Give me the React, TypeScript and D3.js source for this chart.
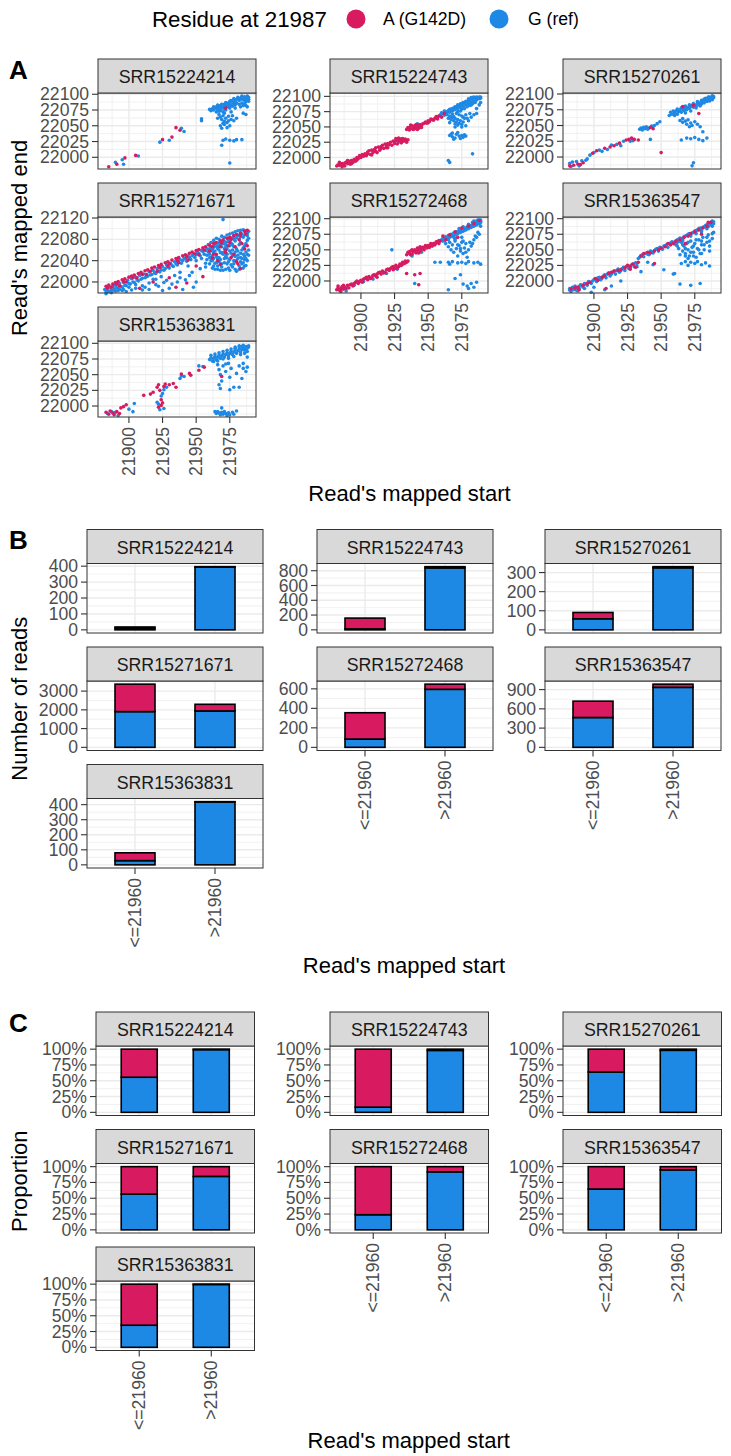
import React from 'react';
import * as d3 from 'd3';

const RED = '#D81B60';
const BLUE = '#1E88E5';
const FONT = '"Liberation Sans", Arial, Helvetica, sans-serif';

const samples = ['SRR15224214', 'SRR15224743', 'SRR15270261', 'SRR15271671', 'SRR15272468', 'SRR15363547', 'SRR15363831'];
const legendLabels = ['A (G142D)', 'G (ref)'];
const legendTitle = 'Residue at 21987';

// ---------- Panel A: read start / end points ----------
type P = [number, number];
const s1Alt: P[] = [[21885,21985],[21891,21989],[21897,21999],[21905,22003],[21925,22028],[21932,22032],[21935,22047],[21938,22043],[21972,22078]];
const s1Ref: P[] = [[21890,21992],[21895,21996],[21896,21989],[21907,22002],[21923,22024],[21930,22027],[21939,22046],[21941,22041],[21954,22061],[21954,22058],
[21976,22090],[21978,22093],[21980,22092],[21981,22095],[21983,22094],[21984,22097],[21985,22093],[21986,22096],[21987,22094],[21988,22097],[21989,22095],[21982,22090],[21979,22088],[21986,22090],[21988,22091],[21989,22092],
[21960,22076],[21962,22077],[21963,22075],[21964,22078],[21965,22080],[21966,22076],[21967,22079],[21968,22082],[21969,22078],[21970,22080],[21971,22084],[21972,22081],[21973,22083],[21974,22086],[21975,22084],[21976,22082],[21977,22087],[21978,22085],[21979,22083],[21980,22086],[21968,22074],[21970,22072],[21972,22075],[21975,22078],[21965,22072],[21982,22084],[21984,22086],[21986,22085],[21987,22082],[21988,22080],[21961,22074],[21967,22073],[21971,22077],[21974,22080],[21977,22081],
[21967,22068],[21968,22064],[21969,22060],[21970,22066],[21971,22057],[21972,22062],[21973,22055],[21974,22065],[21975,22050],[21976,22060],[21968,22050],[21969,22046],[21978,22058],[21980,22062],[21985,22070],[21987,22068],[21970,22054],[21973,22047],
[21970,22027],[21972,22029],[21975,22027],[21978,22026],[21980,22028],[21984,22028],[21969,22019],[21975,21991]];
const s1RefB: P[] = [[21963,22080],[21966,22083],[21969,22084],[21972,22087],[21975,22089],[21978,22091],[21981,22093],[21984,22092],[21987,22088],[21989,22089],[21971,22070],[21976,22072],[21979,22078],[21983,22080],[21985,22082],[21966,22062],[21971,22052],[21974,22058],[21977,22066]];

const s2Alt: P[] = [[21882,21986],[21883,21988],[21884,21987],[21885,21989],[21886,21990],[21887,21988],[21888,21991],[21889,21992],[21890,21990],[21891,21994],[21893,21995],[21895,21997],[21897,22000],
[21899,22003],[21901,22005],[21903,22006],[21905,22009],[21906,22011],[21908,22012],[21910,22013],[21911,22016],[21913,22017],[21915,22018],[21916,22020],[21918,22022],[21920,22023],[21922,22025],[21924,22027],[21925,22026],[21926,22028],[21927,22029],[21928,22027],[21929,22030],[21930,22028],[21931,22031],[21932,22029],[21933,22027],
[21908,22004],[21912,22008],[21927,22022],[21930,22024],[21934,22025],[21920,22016],
[21934,22046],[21935,22049],[21936,22048],[21937,22051],[21938,22047],[21939,22050],[21940,22052],[21941,22049],[21942,22053],[21943,22051],[21944,22054],[21945,22052],[21936,22045],[21940,22047],
[21946,22055],[21948,22058],[21950,22060],[21951,22059],[21953,22062],[21955,22064],[21957,22066],[21958,22068],[21952,22063],[21949,22056],[21960,22066],[21962,22072]];
const s2AltB: P[] = [[21884,21992],[21886,21985],[21888,21986],[21890,21995],[21892,21989],[21894,21992],[21896,21994],[21898,21998],[21900,22000],[21902,22002],[21904,22003],[21907,22005],[21909,22008],[21911,22010],[21914,22012],[21917,22015],[21919,22019],[21921,22021],[21923,22020],[21925,22023],[21926,22031],[21928,22032],[21931,22026],[21933,22030],[21935,22029],[21937,22053],[21939,22046],[21941,22054],[21943,22048],[21945,22049],[21947,22056],[21950,22057],[21954,22061],[21956,22067],[21957,22063],[21944,22050],[21938,22052],[21942,22046],[21893,21990],[21897,21996],[21905,22006],[21915,22015],[21919,22016]];
const s2Ref: P[] = [[21892,21991],[21930,22030],[21942,22055],[21928,22025],
[21959,22070],[21961,22072],[21962,22069],[21963,22075],[21964,22073],[21965,22077],[21966,22074],[21967,22079],[21968,22076],[21969,22081],[21970,22078],[21971,22083],[21972,22080],[21973,22085],[21974,22082],[21975,22087],[21976,22084],[21977,22089],[21978,22086],[21979,22091],[21980,22088],[21981,22093],[21982,22090],[21983,22095],[21984,22092],[21985,22097],[21986,22094],[21987,22098],[21988,22096],[21989,22099],[21989,22097],[21988,22099],[21985,22090],[21982,22086],[21979,22083],[21975,22079],[21972,22075],[21968,22071],[21966,22068],[21983,22098],[21986,22099],[21980,22094],
[21965,22064],[21967,22062],[21968,22066],[21969,22060],[21970,22064],[21971,22058],[21972,22062],[21973,22056],[21974,22060],[21975,22054],[21976,22058],[21977,22064],[21978,22052],[21970,22055],[21966,22057],[21980,22060],[21982,22066],[21984,22070],[21986,22072],[21978,22070],[21975,22068],[21973,22070],
[21966,22036],[21968,22034],[21970,22032],[21971,22038],[21973,22035],[21974,22031],[21976,22033],[21977,22037],[21969,22030],[21983,22006],[21965,21995],[21966,21992]];
const s2RefB: P[] = [[21960,22073],[21962,22076],[21964,22070],[21966,22079],[21968,22080],[21970,22083],[21972,22086],[21974,22088],[21976,22090],[21978,22092],[21980,22096],[21982,22098],[21984,22099],[21981,22085],[21983,22088],[21977,22080],[21974,22076],[21971,22072],[21969,22067],[21967,22066],[21976,22066],[21979,22064],[21981,22072],[21986,22080],[21988,22086],[21989,22090],[21972,22053],[21975,22050],[21970,22050],[21968,22040],[21972,22041],[21967,22038],[21975,22036],[21978,22035]];

const s3Alt: P[] = [[21882,21986],[21885,21987],[21888,21989],[21890,21988],[21892,21991],
[21899,22006],[21902,22010],[21908,22014],[21912,22016],[21915,22018],[21919,22022],[21924,22027],[21926,22028],[21930,22028],[21933,22027],[21928,22030],
[21942,22047],[21944,22045],[21950,22007],[21974,22082],[21978,22069],[21966,22080]];
const s3Ref: P[] = [[21882,21990],[21884,21992],[21887,21993],[21889,21986],[21891,21994],[21894,21995],[21895,21997],[21883,21985],
[21897,22003],[21900,22007],[21904,22011],[21906,22009],[21910,22012],[21913,22019],[21917,22020],[21920,22018],[21922,22025],[21927,22025],[21929,22026],
[21934,22044],[21935,22046],[21936,22043],[21937,22047],[21938,22045],[21939,22048],[21940,22044],[21941,22046],[21943,22049],[21945,22050],[21947,22053],[21949,22056],[21942,22028],
[21956,22066],[21958,22068],[21960,22070],[21961,22073],[21962,22068],[21963,22072],[21964,22075],[21965,22071],[21966,22076],[21967,22074],[21968,22078],[21969,22075],[21970,22079],[21971,22077],[21972,22080],[21973,22082],[21974,22079],[21975,22083],[21976,22081],[21977,22085],[21978,22083],[21979,22086],[21980,22084],[21981,22088],[21982,22086],[21983,22090],[21984,22088],[21985,22091],[21986,22089],[21987,22093],[21988,22091],[21989,22094],[21989,22096],[21988,22097],[21985,22095],[21982,22092],
[21964,22058],[21966,22055],[21968,22057],[21969,22052],[21970,22059],[21972,22054],[21973,22050],[21975,22056],[21977,22052],[21979,22048],[21981,22040],[21971,22048],
[21965,22027],[21969,22030],[21972,22029],[21975,22031],[21978,22028],[21981,22026],[21984,22030],[21973,21986],[21974,21991]];
const s3RefB: P[] = [[21957,22071],[21959,22073],[21962,22076],[21965,22078],[21968,22081],[21971,22083],[21974,22085],[21977,22088],[21980,22090],[21983,22093],[21986,22095],[21988,22094],[21979,22081],[21976,22078],[21972,22073],[21968,22070],[21960,22066],[21966,22061]];

const s4Ref: P[] = [[21882,21986],[21883,21981],[21884,21989],[21885,21983],[21886,21990],[21887,21985],[21888,21992],[21889,21987],[21890,21994],[21891,21989],[21892,21984],[21893,21997],[21894,21992],[21896,21999],[21897,21994],[21899,22003],[21900,21997],[21902,22006],[21903,22000],[21905,22009],[21906,22004],[21908,22012],[21910,22007],[21911,22015],[21913,22010],[21915,22019],[21916,22013],[21918,22022],[21920,22016],[21921,22025],[21923,22019],[21925,22029],[21926,22022],[21928,22032],[21930,22026],[21931,22035],[21933,22029],[21934,22038],[21936,22032],[21938,22042],[21939,22035],[21941,22045],[21943,22039],[21944,22049],[21946,22042],[21948,22052],[21949,22046],[21951,22056],[21953,22049],[21954,22059],[21956,22052],[21958,22062],[21959,22056],[21961,22066],[21962,22060],[21964,22069],[21966,22063],[21967,22073],[21969,22066],[21971,22076],[21972,22070],[21974,22080],[21976,22073],[21977,22083],[21979,22077],[21981,22087],[21982,22080],[21984,22090],[21985,22084],[21987,22093],[21988,22087],[21989,22095],
[21900,21990],[21905,21995],[21910,21985],[21915,21998],[21922,21992],[21928,22003],[21932,21996],[21938,22008],[21945,22012],[21950,22000],[21948,21990],[21940,21986],[21925,21984],[21896,21986],[21918,22005],
[21958,22050],[21960,22046],[21962,22040],[21963,22055],[21964,22035],[21965,22048],[21966,22030],[21967,22060],[21968,22042],[21969,22028],[21970,22052],[21971,22036],[21972,22065],[21973,22045],[21974,22026],[21975,22058],[21976,22032],[21977,22070],[21978,22040],[21979,22024],[21980,22062],[21981,22050],[21982,22030],[21983,22074],[21984,22044],[21985,22036],[21986,22068],[21987,22056],[21988,22078],[21989,22082],[21970,22075],[21974,22080],[21978,22085],[21982,22088],[21966,22068],[21961,22058],[21984,22060],[21986,22048],[21988,22040],[21975,22022],[21980,22020],[21972,22024],[21964,22024],[21977,22049],[21971,22044],[21983,22054],[21987,22031],[21970,22117]];
const s4RefB: P[] = [[21883,21978],[21886,21982],[21889,21984],[21892,21988],[21895,21990],[21898,21993],[21901,21996],[21904,21999],[21907,22002],[21909,22005],[21912,22008],[21914,22011],[21917,22014],[21919,22017],[21922,22020],[21924,22023],[21927,22025],[21929,22028],[21932,22031],[21935,22034],[21937,22037],[21940,22040],[21942,22043],[21945,22046],[21947,22049],[21950,22051],[21952,22054],[21955,22057],[21957,22059],[21960,22062],[21963,22065],[21965,22067],[21968,22070],[21970,22072],[21973,22075],[21975,22078],[21978,22080],[21980,22083],[21983,22085],[21986,22088],[21988,22091],
[21902,21985],[21912,21990],[21920,21995],[21930,21988],[21936,22000],[21942,22004],[21947,22018],[21953,22025],[21957,22035],[21898,21982],[21915,21986],[21926,21999],[21934,22012],
[21960,22052],[21962,22048],[21964,22058],[21966,22044],[21967,22038],[21969,22055],[21971,22062],[21972,22048],[21973,22034],[21975,22042],[21976,22054],[21978,22066],[21979,22048],[21980,22040],[21981,22058],[21982,22070],[21983,22046],[21984,22034],[21985,22064],[21986,22042],[21987,22072],[21988,22052],[21989,22060],[21963,22030],[21966,22024],[21970,22022],[21977,22028],[21985,22026],[21962,22062],[21968,22055]];
const s4RefC: P[] = [[21959,22070],[21961,22074],[21963,22078],[21965,22082],[21967,22080],[21969,22086],[21971,22084],[21973,22088],[21975,22090],[21977,22092],[21979,22094],[21981,22096],[21983,22097],[21985,22098],[21987,22096],[21961,22040],[21963,22044],[21965,22036],[21967,22046],[21969,22034],[21971,22056],[21973,22062],[21975,22068],[21977,22060],[21979,22056],[21981,22044],[21983,22038],[21985,22052],[21987,22044],[21989,22050],[21974,22038],[21978,22034],[21982,22024],[21986,22030],[21962,22026],[21968,22022],[21958,22042],[21960,22034],[21957,22028],[21973,22052],
[21884,21982],[21887,21980],[21890,21983],[21893,21986],[21895,21984],[21920,22005],[21924,22010],[21938,22018],[21944,22030],[21950,22040],[21954,22044],[21905,21988],[21910,21993]];
const s4Alt: P[] = [[21883,21992],[21885,21994],[21888,21996],[21890,21999],[21892,22001],[21895,22004],[21897,22006],[21900,22009],[21902,22011],[21904,22013],[21907,22016],[21909,22018],[21912,22021],[21914,22023],[21917,22026],[21919,22028],[21922,22031],[21924,22033],[21927,22036],[21929,22038],[21932,22041],[21935,22044],[21937,22046],[21940,22049],[21942,22051],[21945,22054],[21947,22056],[21950,22059],[21952,22061],[21955,22064],[21957,22066],[21960,22069],[21963,22072],[21965,22074],[21968,22077],[21970,22079],[21973,22082],[21975,22084],[21978,22087],[21980,22089],[21983,22092],[21986,22095],[21988,22097],
[21898,22000],[21906,22008],[21913,22014],[21921,22020],[21929,22030],[21937,22036],[21944,22041],[21952,22051],[21960,22058],[21968,22066],[21975,22074],[21982,22079],[21887,21990],[21893,21993],
[21908,21988],[21918,22000],[21935,21990],[21943,21998],[21955,22010],[21968,22033],[21976,22046],[21983,22025],[21986,22062],[21962,22045],[21979,22066]];
const s4AltB: P[] = [[21884,21988],[21891,21996],[21896,22001],[21903,22008],[21910,22014],[21916,22020],[21923,22027],[21930,22034],[21936,22040],[21943,22047],[21949,22053],[21956,22060],[21962,22066],[21969,22073],[21976,22080],[21983,22087],[21987,22090],[21972,22055],[21980,22038],[21965,22052],[21930,22008],[21950,22030],
[21966,22040],[21972,22060],[21978,22052],[21984,22072],[21988,22068],[21963,22052],[21981,22034],[21974,22068]];

const s5Alt: P[] = [[21882,21986],[21883,21989],[21884,21985],[21885,21988],[21886,21991],[21887,21987],[21888,21990],[21890,21993],[21891,21989],[21893,21995],[21894,21992],[21896,21998],[21898,21996],[21900,22001],[21901,21998],[21903,22004],[21905,22002],[21906,22007],[21908,22005],[21910,22010],[21911,22008],[21913,22013],[21915,22011],[21916,22016],[21918,22014],[21920,22019],[21921,22017],[21923,22022],[21925,22020],[21926,22025],[21928,22023],[21929,22027],[21930,22025],[21931,22030],[21932,22028],[21933,22032],[21934,22030],[21924,22018],[21912,22006],
[21934,22042],[21935,22046],[21936,22044],[21937,22048],[21938,22043],[21939,22047],[21940,22050],[21941,22045],[21942,22049],[21943,22052],[21944,22048],[21945,22051],[21946,22054],[21947,22050],[21948,22055],[21949,22053],[21950,22057],[21951,22054],[21952,22058],[21953,22056],[21954,22060],[21955,22058],[21956,22061],[21957,22063],[21958,22060],[21959,22064],
[21961,22072],[21966,22074],[21970,22079],[21975,22085],[21980,22088],[21984,22092],[21988,22097],[21963,22066],[21972,22070],
[21934,22012],[21940,22010],[21944,22012],[21943,21994]];
const s5AltB: P[] = [[21883,21992],[21885,21984],[21887,21993],[21889,21988],[21892,21994],[21895,21996],[21897,22000],[21899,21999],[21902,22003],[21904,22006],[21907,22004],[21909,22009],[21912,22011],[21914,22014],[21917,22013],[21919,22018],[21922,22020],[21924,22023],[21927,22021],[21929,22025],[21931,22027],[21933,22029],[21935,22032],[21936,22047],[21938,22050],[21940,22047],[21942,22053],[21944,22055],[21946,22052],[21948,22057],[21950,22055],[21952,22060],[21954,22058],[21956,22063],[21958,22065],[21937,22042],[21943,22045]];
const s5Ref: P[] = [[21889,21984],[21895,21993],[21902,21999],[21909,22003],[21919,22012],[21927,22019],[21885,21983],[21938,22040],[21945,22046],[21923,22050],[21955,22030],[21959,22030],[21940,21996],
[21960,22066],[21961,22069],[21962,22065],[21963,22071],[21964,22068],[21965,22073],[21966,22070],[21967,22075],[21968,22072],[21969,22077],[21970,22074],[21971,22079],[21972,22076],[21973,22081],[21974,22078],[21975,22083],[21976,22080],[21977,22085],[21978,22082],[21979,22087],[21980,22084],[21981,22089],[21982,22086],[21983,22091],[21984,22088],[21985,22093],[21986,22090],[21987,22095],[21988,22092],[21989,22096],[21989,22094],[21988,22098],[21987,22098],[21984,22096],
[21963,22060],[21965,22055],[21966,22062],[21967,22050],[21968,22058],[21969,22046],[21970,22064],[21971,22052],[21972,22040],[21973,22057],[21974,22048],[21975,22062],[21976,22044],[21977,22053],[21978,22060],[21979,22038],[21980,22050],[21982,22056],[21984,22066],[21986,22070],[21988,22075],[21975,22070],[21970,22068],
[21965,22030],[21966,22027],[21968,22031],[21972,22029],[21975,22030],[21978,22028],[21980,22031],[21984,22029],[21987,22030],[21989,22027],
[21970,22004],[21974,22010],[21976,21995],[21979,21992],[21982,21996],[21984,21990],[21986,21998],[21980,21988],[21965,21986]];
const s5RefB: P[] = [[21961,22064],[21963,22068],[21965,22066],[21967,22072],[21969,22070],[21971,22075],[21973,22078],[21975,22080],[21977,22082],[21979,22084],[21981,22086],[21983,22088],[21985,22090],[21987,22092],[21989,22098],[21986,22096],[21983,22094],[21980,22091],[21976,22087],[21973,22084],[21970,22066],[21972,22058],[21974,22052],[21976,22064],[21978,22046],[21981,22062],[21983,22060],[21985,22072],[21987,22078],[21989,22088]];

const s6Ref: P[] = [[21882,21985],[21882,21988],[21883,21983],[21884,21990],[21885,21986],[21886,21992],[21887,21988],[21888,21984],[21889,21991],[21890,21994],[21892,21990],[21893,21996],[21895,21993],[21896,21999],[21898,21996],[21900,22002],[21902,21999],[21903,22005],[21905,22002],[21907,22008],[21909,22005],[21910,22011],[21912,22008],[21914,22014],[21916,22011],[21917,22017],[21919,22014],[21921,22020],[21923,22017],[21924,22023],[21926,22020],[21928,22026],[21930,22023],[21932,22028],[21934,22038],[21936,22042],[21937,22039],[21939,22045],[21941,22042],[21942,22048],[21944,22045],[21946,22051],[21948,22048],[21949,22054],[21951,22051],[21953,22057],[21955,22054],[21956,22060],[21958,22063],[21960,22060],[21962,22066],[21964,22069],[21966,22066],[21968,22072],[21970,22075],[21972,22072],[21974,22078],[21976,22081],[21978,22084],[21980,22081],[21982,22087],[21984,22090],[21986,22093],[21988,22096],[21989,22095],[21989,22092],[21987,22090],[21985,22087],
[21893,21988],[21908,21986],[21932,22023],[21960,22012],[21959,22011],
[21961,22058],[21963,22052],[21965,22062],[21966,22048],[21967,22056],[21968,22044],[21969,22060],[21970,22050],[21971,22040],[21972,22064],[21973,22054],[21974,22046],[21975,22060],[21976,22038],[21977,22052],[21978,22066],[21979,22044],[21980,22058],[21981,22070],[21982,22050],[21984,22062],[21985,22074],[21986,22056],[21988,22068],[21989,22078],[21964,22042],[21970,22036],
[21965,22028],[21968,22031],[21970,22025],[21972,22030],[21975,22028],[21977,22031],[21980,22026],[21983,22029],[21986,22024],
[21964,21995],[21972,21993],[21979,21996]];
const s6RefB: P[] = [[21883,21988],[21885,21990],[21887,21985],[21889,21988],[21891,21993],[21894,21995],[21897,21998],[21899,22000],[21901,22003],[21904,22006],[21906,22004],[21908,22010],[21911,22013],[21913,22011],[21915,22016],[21918,22019],[21920,22017],[21922,22022],[21925,22024],[21927,22022],[21929,22027],[21931,22029],[21933,22036],[21935,22041],[21938,22044],[21940,22043],[21943,22047],[21945,22049],[21947,22052],[21950,22052],[21952,22056],[21954,22058],[21957,22061],[21959,22062],[21961,22064],[21963,22067],[21965,22068],[21967,22071],[21969,22073],[21971,22076],[21973,22077],[21975,22080],[21977,22082],[21979,22085],[21981,22086],[21983,22089],[21985,22091],[21987,22094],[21976,22076],[21980,22079],[21984,22084],[21988,22088],[21966,22064],[21962,22062],[21940,22030],[21944,22026],[21952,22018],[21920,22000],[21900,21990],[21935,22015],[21898,21982],[21913,21992],
[21962,22056],[21964,22064],[21966,22058],[21968,22052],[21970,22062],[21972,22046],[21974,22056],[21976,22066],[21978,22050],[21980,22064],[21982,22058],[21984,22070],[21986,22064],[21988,22076],[21968,22040],[21974,22040],[21980,22044],[21986,22048]];
const s6Alt: P[] = [[21883,21987],[21886,21989],[21889,21986],[21892,21993],[21897,21998],[21901,22004],[21906,22006],[21911,22012],[21915,22016],[21920,22018],[21925,22025],[21929,22027],[21933,22030],[21935,22040],[21940,22046],[21945,22048],[21950,22053],[21957,22058],[21961,22064],[21967,22070],[21975,22079],[21981,22085],[21987,22094],[21972,22076],[21931,22022],[21909,21988],[21968,22060],[21980,22075]];
const s6AltB: P[] = [[21888,21990],[21895,21996],[21903,22001],[21908,22008],[21913,22014],[21918,22017],[21923,22021],[21927,22024],[21937,22044],[21942,22045],[21948,22050],[21953,22055],[21955,22060],[21959,22060],[21964,22066],[21970,22072],[21978,22082],[21984,22088],[21985,22094],[21927,22019],[21945,22028]];

const s7Alt: P[] = [[21883,21990],[21885,21987],[21886,21992],[21888,21989],[21889,21986],[21891,21991],[21893,21988],[21896,21999],[21898,22002],[21894,21997],
[21911,22017],[21916,22019],[21918,22022],
[21921,22030],[21922,22034],[21923,22025],[21924,22001],[21925,22005],[21922,21998],[21926,22031],[21927,22035],[21924,22010],
[21930,22034],[21933,22036],[21935,22030],[21939,22051],[21945,22052],[21946,22049],[21952,22057],[21956,22062],[21969,22047]];
const s7Ref: P[] = [[21884,21988],[21887,21991],[21890,21990],[21892,21985],[21900,21995],[21904,22004],[21903,21991],
[21921,22006],[21923,21994],[21924,22016],[21925,22020],[21926,22026],[21922,22003],[21926,21996],[21928,22030],
[21938,22044],[21939,22048],[21941,22047],[21952,22064],[21955,22063],
[21960,22074],[21961,22077],[21962,22072],[21963,22076],[21964,22079],[21965,22074],[21966,22078],[21967,22081],[21968,22076],[21969,22080],[21970,22083],[21971,22078],[21972,22082],[21973,22085],[21974,22080],[21975,22084],[21976,22087],[21977,22082],[21978,22086],[21979,22089],[21980,22084],[21981,22088],[21982,22091],[21983,22086],[21984,22090],[21985,22093],[21986,22089],[21987,22095],[21988,22092],[21989,22096],[21989,22094],[21985,22097],[21982,22094],[21979,22092],
[21966,22066],[21967,22058],[21968,22050],[21969,22040],[21970,22064],[21972,22055],[21974,22068],[21975,22046],[21976,22060],[21978,22030],[21980,22052],[21982,22064],[21984,22044],[21985,22068],[21987,22055],[21988,22062],[21967,22034],[21968,22028],[21975,22026],[21982,22030],
[21964,21991],[21965,21988],[21966,21991],[21967,21989],[21968,21986],[21969,21990],[21970,21987],[21971,21991],[21972,21988],[21973,21985],[21974,21989],[21975,21986],[21977,21990],[21978,21987],[21980,21992],[21969,21997]];
const s7RefB: P[] = [[21961,22081],[21964,22083],[21967,22085],[21970,22087],[21973,22089],[21976,22091],[21979,22094],[21982,22096],[21984,22095],[21987,22092],[21963,22071],[21966,22072],[21970,22075],[21974,22076],[21978,22079],[21983,22082],[21986,22084],[21988,22087],[21988,22078],[21985,22060],[21972,22067]];

const scatterAlt: P[][] = [s1Alt, [...s2Alt, ...s2AltB], s3Alt, [...s4Alt, ...s4AltB], [...s5Alt, ...s5AltB], [...s6Alt, ...s6AltB], s7Alt];
const scatterRef: P[][] = [[...s1Ref, ...s1RefB], [...s2Ref, ...s2RefB], [...s3Ref, ...s3RefB], [...s4Ref, ...s4RefB, ...s4RefC], [...s5Ref, ...s5RefB], [...s6Ref, ...s6RefB], [...s7Ref, ...s7RefB]];

const xLimitsA: [number, number] = [21877, 21994.5];
const xTicksA = [21900, 21925, 21950, 21975];
const yLimitsA: [number, number][] = [
  [21981.4, 22102], [21981.2, 22105.5], [21981, 22101.6], [21979.3, 22121.9],
  [21980.7, 22102.7], [21980.7, 22102.7], [21982.5, 22103.7]];
const yTicksA = [
  [22000, 22025, 22050, 22075, 22100], [22000, 22025, 22050, 22075, 22100], [22000, 22025, 22050, 22075, 22100],
  [22000, 22040, 22080, 22120],
  [22000, 22025, 22050, 22075, 22100], [22000, 22025, 22050, 22075, 22100], [22000, 22025, 22050, 22075, 22100]];

// ---------- Panels B & C: read counts ----------
const startBins = ['<=21960', '>21960'];
const refLe = [10, 13, 58, 1905, 85, 465, 28];
const altLe = [8, 146, 33, 1465, 270, 255, 52];
const refGt = [394, 838, 325, 1942, 595, 935, 418];
const altGt = [3, 17, 6, 354, 53, 50, 2];
const countTicks = [
  [0, 100, 200, 300, 400], [0, 200, 400, 600, 800], [0, 100, 200, 300],
  [0, 1000, 2000, 3000], [0, 200, 400, 600], [0, 300, 600, 900], [0, 100, 200, 300, 400]];
const propTicks = [0, 0.25, 0.5, 0.75, 1];

// ---------- layout ----------
type Sec = { top: number; pitch: number; stripH: number; plotH: number; lefts: number[]; width: number };
const secA: Sec = { top: 59, pitch: 124, stripH: 34, plotH: 76, lefts: [98, 330, 563], width: 158 };
const secB: Sec = { top: 529.5, pitch: 117.5, stripH: 34, plotH: 69.5, lefts: [87, 317, 545], width: 176 };
const secC: Sec = { top: 1012, pitch: 117.5, stripH: 34, plotH: 69.5, lefts: [96, 330, 563], width: 158.5 };

const AX = 17.6;
const GRID = '#EBEBEB';
const DARK = '#333333';
const TICKCOL = '#4D4D4D';
const PR = 1.8;

function minorsOf(ticks: number[], dom: [number, number]) {
  const step = ticks[1] - ticks[0];
  const out: number[] = [];
  for (let k = 0; k <= ticks.length; k++) {
    const v = ticks[0] + (k - 0.5) * step;
    if (v >= dom[0] && v <= dom[1]) out.push(v);
  }
  return out;
}

function geom(sec: Sec, i: number) {
  const col = i % 3, row = Math.floor(i / 3);
  const left = sec.lefts[col];
  const stripTop = sec.top + row * sec.pitch;
  const top = stripTop + sec.stripH;
  return { left, stripTop, top, w: sec.width, h: sec.plotH, bottomAxis: i + 3 >= samples.length };
}

function Strip({ x, y, w, h, label }: { x: number; y: number; w: number; h: number; label: string }) {
  return (
    <g>
      <rect x={x} y={y} width={w} height={h} fill="#D9D9D9" stroke={DARK} strokeWidth={1} />
      <text x={x + w / 2} y={y + h / 2 + 1} textAnchor="middle" dominantBaseline="central" fontSize={17.8} fill="#1A1A1A">{label}</text>
    </g>
  );
}

function YAxis({ left, top, ticks, scale, fmt }: { left: number; top: number; ticks: number[]; scale: (v: number) => number; fmt: (v: number) => string }) {
  return (
    <g>
      {ticks.map(t => (
        <g key={t}>
          <line x1={left - 6} x2={left} y1={top + scale(t)} y2={top + scale(t)} stroke={DARK} strokeWidth={1.1} />
          <text x={left - 9} y={top + scale(t)} textAnchor="end" dominantBaseline="central" fontSize={AX} fill={TICKCOL}>{fmt(t)}</text>
        </g>
      ))}
    </g>
  );
}

function XAxisRot({ left, bottom, ticks, pos, labels }: { left: number; bottom: number; ticks: any[]; pos: (v: any) => number; labels: string[] }) {
  return (
    <g>
      {ticks.map((t, k) => {
        const x = left + pos(t);
        return (
          <g key={String(t)}>
            <line x1={x} x2={x} y1={bottom} y2={bottom + 6} stroke={DARK} strokeWidth={1.1} />
            <text transform={`translate(${x},${bottom + 10}) rotate(-90)`} textAnchor="end" dominantBaseline="central" fontSize={AX} fill={TICKCOL}>{labels[k]}</text>
          </g>
        );
      })}
    </g>
  );
}

function ScatterPanel({ i }: { i: number }) {
  const g = geom(secA, i);
  const x = d3.scaleLinear().domain(xLimitsA).range([0, g.w]);
  const y = d3.scaleLinear().domain(yLimitsA[i]).range([g.h, 0]);
  const yt = yTicksA[i];
  const ymin = minorsOf(yt, yLimitsA[i]);
  const xmin = minorsOf(xTicksA, xLimitsA);
  return (
    <g>
      <g transform={`translate(${g.left},${g.top})`}>
        <rect width={g.w} height={g.h} fill="#fff" />
        {xmin.map(v => <line key={'xm' + v} x1={x(v)} x2={x(v)} y1={0} y2={g.h} stroke={GRID} strokeWidth={0.7} />)}
        {ymin.map(v => <line key={'ym' + v} x1={0} x2={g.w} y1={y(v)} y2={y(v)} stroke={GRID} strokeWidth={0.7} />)}
        {xTicksA.map(v => <line key={'xM' + v} x1={x(v)} x2={x(v)} y1={0} y2={g.h} stroke={GRID} strokeWidth={1.4} />)}
        {yt.map(v => <line key={'yM' + v} x1={0} x2={g.w} y1={y(v)} y2={y(v)} stroke={GRID} strokeWidth={1.4} />)}
        {scatterRef[i].map((d, k) => <circle key={'r' + k} cx={x(d[0])} cy={y(d[1])} r={PR} fill={BLUE} />)}
        {scatterAlt[i].map((d, k) => <circle key={'a' + k} cx={x(d[0])} cy={y(d[1])} r={PR} fill={RED} />)}
        <rect width={g.w} height={g.h} fill="none" stroke={DARK} strokeWidth={1} />
      </g>
      <Strip x={g.left} y={g.stripTop} w={g.w} h={secA.stripH} label={samples[i]} />
      <YAxis left={g.left} top={g.top} ticks={yt} scale={y} fmt={v => String(v)} />
      {g.bottomAxis && <XAxisRot left={g.left} bottom={g.top + g.h} ticks={xTicksA} pos={x} labels={xTicksA.map(String)} />}
    </g>
  );
}

function BarPanel({ i, sec, prop }: { i: number; sec: Sec; prop: boolean }) {
  const g = geom(sec, i);
  const rows = startBins.map((b, k) => {
    const ref = k === 0 ? refLe[i] : refGt[i];
    const alt = k === 0 ? altLe[i] : altGt[i];
    const t = prop ? ref + alt : 1;
    return { bin: b, ref: ref / t, alt: alt / t };
  });
  const stacked = d3.stack<any>().keys(['ref', 'alt'])(rows);
  const maxV = d3.max(rows, r => r.ref + r.alt) as number;
  const y = d3.scaleLinear().domain([-0.05 * maxV, 1.05 * maxV]).range([g.h, 0]);
  const x = d3.scalePoint<string>().domain(startBins).range([0, g.w]).padding(0.6);
  const bw = x.step() * 0.5;
  const ticks = prop ? propTicks : countTicks[i];
  const dom: [number, number] = [-0.05 * maxV, 1.05 * maxV];
  const ymin = minorsOf(ticks, dom);
  const fmt = prop ? d3.format('.0%') : (v: number) => String(v);
  return (
    <g>
      <g transform={`translate(${g.left},${g.top})`}>
        <rect width={g.w} height={g.h} fill="#fff" />
        {ymin.map(v => <line key={'ym' + v} x1={0} x2={g.w} y1={y(v)} y2={y(v)} stroke={GRID} strokeWidth={0.7} />)}
        {ticks.map(v => <line key={'yM' + v} x1={0} x2={g.w} y1={y(v)} y2={y(v)} stroke={GRID} strokeWidth={1.4} />)}
        {startBins.map(b => <line key={'xM' + b} x1={x(b)} x2={x(b)} y1={0} y2={g.h} stroke={GRID} strokeWidth={1.4} />)}
        {stacked.map(layer => layer.map((seg, k) => (
          <rect key={layer.key + k} x={(x(rows[k].bin) as number) - bw / 2} y={y(seg[1])} width={bw}
            height={Math.max(0, y(seg[0]) - y(seg[1]))} fill={layer.key === 'ref' ? BLUE : RED} stroke="#000" strokeWidth={1.6} />
        )))}
        <rect width={g.w} height={g.h} fill="none" stroke={DARK} strokeWidth={1} />
      </g>
      <Strip x={g.left} y={g.stripTop} w={g.w} h={sec.stripH} label={samples[i]} />
      <YAxis left={g.left} top={g.top} ticks={ticks} scale={y} fmt={fmt} />
      {g.bottomAxis && <XAxisRot left={g.left} bottom={g.top + g.h} ticks={startBins} pos={(b: string) => x(b) as number} labels={startBins} />}
    </g>
  );
}

function Legend() {
  return (
    <g>
      <text x={152} y={19} dominantBaseline="central" fontSize={22.3} fill="#000">{legendTitle}</text>
      <circle cx={356} cy={19} r={9.5} fill={RED} />
      <text x={383} y={19} dominantBaseline="central" fontSize={AX} fill="#000">{legendLabels[0]}</text>
      <circle cx={499} cy={19} r={9.5} fill={BLUE} />
      <text x={528} y={19} dominantBaseline="central" fontSize={AX} fill="#000">{legendLabels[1]}</text>
    </g>
  );
}

function SectionTitles({ sec, letter, letterY, yTitle, xTitleY }: { sec: Sec; letter: string; letterY: number; yTitle: string; xTitleY: number }) {
  const lastRowBottom = sec.top + 2 * sec.pitch + sec.stripH + sec.plotH;
  const cy = (sec.top + lastRowBottom) / 2;
  const cx = (sec.lefts[0] + sec.lefts[2] + sec.width) / 2;
  return (
    <g>
      <text x={9} y={letterY} fontSize={26} fontWeight="bold" fill="#000">{letter}</text>
      <text transform={`translate(19,${cy}) rotate(-90)`} textAnchor="middle" dominantBaseline="central" fontSize={22} fill="#000">{yTitle}</text>
      <text x={cx} y={xTitleY} textAnchor="middle" dominantBaseline="central" fontSize={22} fill="#000">{"Read's mapped start"}</text>
    </g>
  );
}

export default function App() {
  return (
    <svg width={731} height={1456} style={{ position: 'absolute', left: 0, top: 0 }} fontFamily={FONT}>
      <rect width={731} height={1456} fill="#fff" />
      <Legend />
      <SectionTitles sec={secA} letter="A" letterY={79} yTitle="Read's mapped end" xTitleY={493} />
      {samples.map((s, i) => <ScatterPanel key={'A' + s} i={i} />)}
      <SectionTitles sec={secB} letter="B" letterY={549} yTitle="Number of reads" xTitleY={965} />
      {samples.map((s, i) => <BarPanel key={'B' + s} i={i} sec={secB} prop={false} />)}
      <SectionTitles sec={secC} letter="C" letterY={1032} yTitle="Proportion" xTitleY={1440} />
      {samples.map((s, i) => <BarPanel key={'C' + s} i={i} sec={secC} prop={true} />)}
    </svg>
  );
}
